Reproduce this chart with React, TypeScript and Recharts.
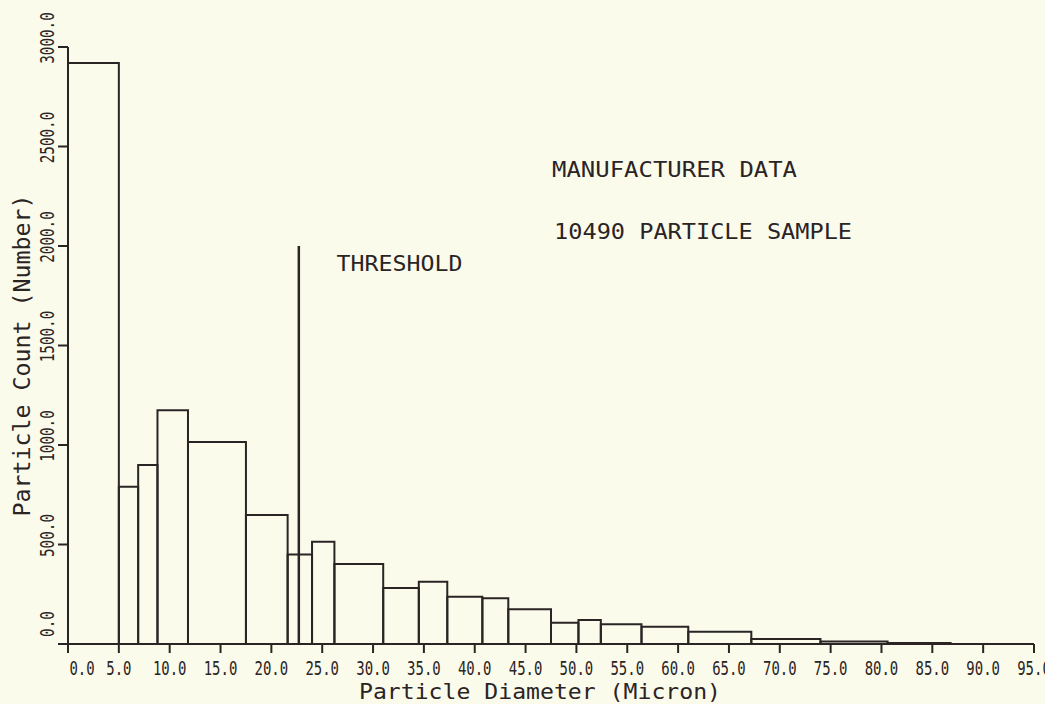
import React from 'react';
import {
  ComposedChart,
  Line,
  XAxis,
  YAxis,
  ReferenceArea,
  ReferenceLine,
  ReferenceDot,
} from 'recharts';

// bin edges (micron) and particle counts per bin
const binEdges = [0, 5, 6.9, 8.8, 11.8, 17.5, 21.6, 24.0, 26.2, 31.0, 34.5, 37.3, 40.75, 43.3, 47.5, 50.2, 52.4, 56.4, 61.0, 67.2, 74.0, 80.6, 86.8];
const binCounts = [2920, 790, 900, 1175, 1015, 648, 450, 514, 402, 281, 313, 238, 230, 174, 107, 120, 99, 87, 62, 25, 12, 5];

const xTicks = [0, 5, 10, 15, 20, 25, 30, 35, 40, 45, 50, 55, 60, 65, 70, 75, 80, 85, 90, 95];
const yTicks = [0, 500, 1000, 1500, 2000, 2500, 3000];

const thresholdDiameter = 22.7;
const thresholdTop = 2000;

const ink = '#2b2424';
const paper = '#fbfbec';
const font = '"DejaVu Sans Mono", monospace';

const bins = binCounts.map((count, i) => ({
  start: binEdges[i],
  end: binEdges[i + 1],
  count,
}));

const XTick = (props: any) => {
  const { x, y, payload } = props;
  const label = payload.value.toFixed(1);
  const shift = payload.value === 0 ? 14 : 0;
  return (
    <text
      x={x + shift}
      y={y + 20}
      textAnchor="middle"
      fontFamily={font}
      fontSize={19}
      fill={ink}
      textLength={label.length * 8.4}
      lengthAdjust="spacingAndGlyphs"
    >
      {label}
    </text>
  );
};

const YTick = (props: any) => {
  const { x, y, payload } = props;
  const label = payload.value.toFixed(1);
  const cy = y + (payload.value === 0 ? -20 : -9);
  const cx = x - 2;
  return (
    <text
      x={cx}
      y={cy}
      transform={`rotate(-90, ${cx}, ${cy})`}
      textAnchor="middle"
      fontFamily={font}
      fontSize={19}
      fill={ink}
      textLength={label.length * 8.6}
      lengthAdjust="spacingAndGlyphs"
    >
      {label}
    </text>
  );
};

const note = (text: string, width: number) => (p: any) => (
  <text
    x={p.viewBox.x}
    y={p.viewBox.y}
    fontFamily={font}
    fontSize={22}
    fill={ink}
    textLength={width}
    lengthAdjust="spacingAndGlyphs"
  >
    {text}
  </text>
);

export default function App() {
  return (
    <div style={{ width: 1045, height: 704, overflow: 'hidden', background: paper }}>
      <style>{'body{margin:0;background:' + paper + '}'}</style>
      <ComposedChart
        width={1045}
        height={704}
        data={bins}
        margin={{ top: 47, right: 11, bottom: 0, left: 0 }}
      >
        <XAxis
          dataKey="start"
          type="number"
          domain={[0, 95]}
          ticks={xTicks}
          interval={0}
          allowDataOverflow
          height={60}
          tickSize={9}
          stroke={ink}
          strokeWidth={2}
          tick={<XTick />}
          label={{
            content: (p: any) => (
              <text
                x={p.viewBox.x + p.viewBox.width / 2 - 11}
                y={p.viewBox.y + 55}
                textAnchor="middle"
                fontFamily={font}
                fontSize={22}
                fill={ink}
                textLength={362}
                lengthAdjust="spacingAndGlyphs"
              >
                Particle Diameter (Micron)
              </text>
            ),
          }}
        />
        <YAxis
          type="number"
          domain={[0, 3000]}
          ticks={yTicks}
          interval={0}
          width={68}
          tickSize={10}
          stroke={ink}
          strokeWidth={2}
          tick={<YTick />}
          label={{
            content: (p: any) => {
              const cx = p.viewBox.x + 30;
              const cy = p.viewBox.y + p.viewBox.height / 2 + 10;
              return (
                <text
                  x={cx}
                  y={cy}
                  transform={`rotate(-90, ${cx}, ${cy})`}
                  textAnchor="middle"
                  fontFamily={font}
                  fontSize={23}
                  fill={ink}
                  textLength={322}
                  lengthAdjust="spacingAndGlyphs"
                >
                  Particle Count (Number)
                </text>
              );
            },
          }}
        />
        {bins.map((b) => (
          <ReferenceArea
            key={b.start}
            x1={b.start}
            x2={b.end}
            y1={0}
            y2={b.count}
            fill="none"
            fillOpacity={0}
            stroke={ink}
            strokeWidth={2}
          />
        ))}
        <ReferenceLine
          segment={[
            { x: thresholdDiameter, y: 0 },
            { x: thresholdDiameter, y: thresholdTop },
          ]}
          stroke={ink}
          strokeWidth={2.5}
        />
        <ReferenceDot x={26.5} y={1869} r={1} fill="none" stroke="none" label={{ content: note('THRESHOLD', 126) }} />
        <ReferenceDot x={47.7} y={2342} r={1} fill="none" stroke="none" label={{ content: note('MANUFACTURER DATA', 245) }} />
        <ReferenceDot x={47.9} y={2030} r={1} fill="none" stroke="none" label={{ content: note('10490 PARTICLE SAMPLE', 298) }} />
        <Line dataKey="count" stroke="none" dot={false} activeDot={false} isAnimationActive={false} />
      </ComposedChart>
    </div>
  );
}
